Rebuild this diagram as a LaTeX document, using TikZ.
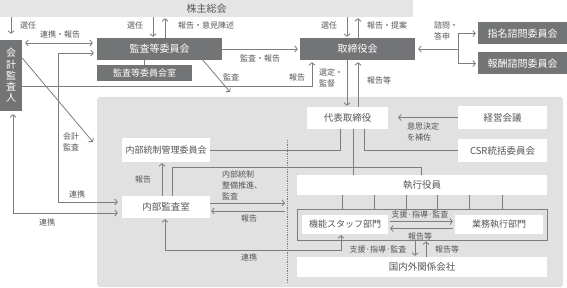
\documentclass[tikz,border=0pt]{standalone}
\usepackage{fontspec}
\setmainfont{Noto Sans CJK JP}
\usetikzlibrary{arrows.meta,calc}
\definecolor{dbox}{RGB}{115,116,118}
\definecolor{lbar}{RGB}{229,229,229}
\definecolor{reg}{RGB}{225,225,225}
\definecolor{ln}{RGB}{125,125,125}
\definecolor{tx}{RGB}{85,85,85}
\begin{document}
\begin{tikzpicture}[x=1pt,y=-1pt,
  dboxst/.style={fill=dbox,text=white,inner sep=0pt,font=\fontsize{10}{11}\selectfont},
  wboxst/.style={fill=white,text=tx,inner sep=0pt,font=\fontsize{9.5}{11}\selectfont},
  lbl/.style={text=tx,font=\fontsize{8}{11}\selectfont,inner sep=0pt,align=left},
  conn/.style={draw=ln,line width=0.8pt},
  arr/.style={conn,-{Straight Barb[length=2.5pt,width=6pt]}},
  darr/.style={conn,{Straight Barb[length=2.5pt,width=6pt]}-{Straight Barb[length=2.5pt,width=6pt]}},
]
\useasboundingbox (0,0) rectangle (567,288);
\fill[white] (0,0) rectangle (567,288);
% background region
\fill[reg, rounded corners=3pt] (97,97) rectangle (563,287);

% top bar
\node[fill=lbar,text=tx,inner sep=0pt,font=\fontsize{10}{11}\selectfont,minimum width=413pt,minimum height=17pt] (soukai) at (206.5,8.5) {株主総会};

% dark boxes
\node[dboxst,minimum width=22pt,minimum height=71pt,align=center,font=\fontsize{10}{11.2}\selectfont] (kaikei) at (11,75.5) {会\\計\\監\\査\\人};
\node[dboxst,minimum width=125pt,minimum height=22pt] (kansa) at (159.5,49) {監査等委員会};
\node[dboxst,minimum width=95pt,minimum height=16pt,font=\fontsize{9}{10}\selectfont] (kansashitsu) at (144.5,73) {監査等委員会室};
\node[dboxst,minimum width=115pt,minimum height=22pt] (torishimari) at (357.5,49) {取締役会};
\node[dboxst,minimum width=89pt,minimum height=22pt] (shimei) at (522.5,33.5) {指名諮問委員会};
\node[dboxst,minimum width=89pt,minimum height=22pt] (houshu) at (522.5,63.5) {報酬諮問委員会};
\draw[conn] (kansa.south -| kansashitsu.north) -- (kansashitsu.north);

% white boxes
\node[wboxst,minimum width=81pt,minimum height=22pt] (daihyo) at (347.5,118) {代表取締役};
\node[wboxst,minimum width=89pt,minimum height=23pt] (keiei) at (502.5,117.5) {経営会議};
\node[wboxst,minimum width=89pt,minimum height=23pt] (csr) at (502.5,150.5) {CSR統括委員会};
\node[wboxst,minimum width=88pt,minimum height=24pt,font=\fontsize{9}{10}\selectfont] (naibutousei) at (166,150) {内部統制管理委員会};
\node[wboxst,minimum width=88pt,minimum height=22pt] (naibukansa) at (166,207) {内部監査室};
\node[wboxst,minimum width=250pt,minimum height=20pt] (shikko) at (422,185) {執行役員};
\node[draw=ln,line width=0.9pt,inner sep=0pt,minimum width=250pt,minimum height=31pt] (frame) at (422,224.5) {};
\node[wboxst,minimum width=86pt,minimum height=19pt,font=\fontsize{9}{10}\selectfont] (kinou) at (345,224.5) {機能スタッフ部門};
\node[wboxst,minimum width=88pt,minimum height=19pt,font=\fontsize{9}{10}\selectfont] (gyomu) at (499,224.5) {業務執行部門};
\node[wboxst,minimum width=250pt,minimum height=20pt] (kokunai) at (422,267) {国内外関係会社};

% dotted divider
\coordinate (dvt) at (287,140);
\coordinate (dvb) at (287,283);
\draw[ln,densely dotted,line width=0.8pt] (dvt) -- (dvb);

% connections from 株主総会
\draw[arr,shorten >=6pt] (kaikei.north |- soukai.south) -- (kaikei.north);
\draw[arr,shorten >=1pt] (soukai.south -| 153,0) -- (kansa.north -| 153,0);
\draw[arr,shorten >=1pt] (kansa.north -| 165,0) -- (soukai.south -| 165,0);
\draw[arr,shorten >=1pt] (soukai.south -| 347,0) -- (torishimari.north -| 347,0);
\draw[arr,shorten >=1pt] (torishimari.north -| 358,0) -- (soukai.south -| 358,0);
\node[lbl] (l1) at (28,25) {選任};
\node[lbl] (l2) at (135,25) {選任};
\node[lbl] (l3) at (206,25) {報告・意見陳述};
\node[lbl] (l4) at (329,25) {選任};
\node[lbl] (l5) at (387,25) {報告・提案};

% 会計監査人 <-> 監査等委員会
\draw[darr,shorten <=3pt,shorten >=4pt] (kaikei.east |- 0,43) -- (kansa.west |- 0,43);
\node[lbl] (l6) at (60,34) {連携・報告};

% 監査等委員会 -> 取締役会
\draw[arr,shorten >=2pt] (kansa.east) -- (torishimari.west);
\node[lbl] (l7) at (260,58) {監査・報告};
\coordinate (kansaend) at (230,92);
\draw[arr] (kansa.south -| 203,0) -- (kansaend);
\node[lbl] (l8) at (231,77) {監査};

% 会計監査人 -> 取締役会 報告
\draw[arr,shorten >=2pt] (kaikei.east |- 0,86) -| (torishimari.south -| 312,0);
\node[lbl] (l9) at (297,77) {報告};

% 会計監査
\coordinate (kkend) at (93,142);
\draw[arr] (kaikei.east |- 0,58) -- (kkend);
\node[lbl] (l10) at (71,142) {会計\\監査};

% 連携 lines to 内部監査室
\draw[darr,shorten <=3pt,shorten >=4pt] (kansa.west |- 0,53) -- (58,53) -- (58,202) -- (naibukansa.west |- 0,202);
\node[lbl] (l11) at (77,194) {連携};
\draw[darr,shorten <=3pt,shorten >=4pt] (kaikei.south -| 13,0) -- (13,213) -- (naibukansa.west |- 0,213);
\node[lbl] (l12) at (47,222) {連携};

% 取締役会 <-> 代表取締役
\draw[arr,shorten >=1pt] (torishimari.south -| 347,0) -- (daihyo.north -| 347,0);
\draw[arr,shorten >=2pt] (daihyo.north -| 358,0) -- (torishimari.south -| 358,0);
\node[lbl] (l13) at (331,77.5) {選定・\\監督};
\node[lbl] (l14) at (379,80) {報告等};

% 右側委員会
\coordinate (fork) at (458,49);
\draw[arr,shorten >=3pt] (fork) -- (torishimari.east);
\draw[arr,shorten >=2pt] (fork) |- (shimei.west);
\draw[arr,shorten >=2pt] (fork) |- (houshu.west);
\node[lbl] (l15) at (446,31) {諮問・\\答申};

% 経営会議 / CSR
\draw[arr,shorten >=10pt] (keiei.west) -- (daihyo.east |- keiei.west);
\node[lbl] (l16) at (423,132) {意思決定\\を補佐};
\draw[conn] (csr.west) -| (daihyo.south -| 364,0);

% 代表取締役 下
\draw[conn] (daihyo.south -| 340,0) |- (naibutousei.east);
\draw[conn] (daihyo.south -| 353,0) -- (shikko.north -| 353,0);
\draw[conn] (naibukansa.north -| 172,0) -- (172,167) -| (shikko.north -| 421,0);

% 内部監査室
\draw[arr,shorten >=1pt] (naibukansa.north -| 162,0) -- (naibutousei.south -| 162,0);
\node[lbl] (l17) at (143,179) {報告};
\coordinate (aud) at (285,203);
\coordinate (rep) at (285,211);
\draw[arr] (naibukansa.east |- aud) -- (aud);
\draw[arr,shorten >=1pt] (rep) -- (naibukansa.east |- rep);
\node[lbl,anchor=west] (l18) at (222,185.5) {内部統制\\整備推進、\\監査};
\node[lbl] (l19) at (249,218) {報告};
\draw[darr,shorten <=1pt,shorten >=1pt] (naibukansa.south -| 165,0) -- (165,250) -| (kinou.south -| 341,0);
\node[lbl] (l20) at (249,257) {連携};

% 執行役員 ticks
\foreach \xx in {342,374,406,437,469,502}
  \draw[conn] (shikko.south -| \xx,0) -- (frame.north -| \xx,0);

% 機能スタッフ部門 <-> 業務執行部門
\draw[arr,shorten <=2pt,shorten >=2pt] (kinou.east |- 0,221.5) -- (gyomu.west |- 0,221.5);
\draw[arr,shorten <=2pt,shorten >=2pt] (gyomu.west |- 0,228.5) -- (kinou.east |- 0,228.5);
\node[lbl] (l21) at (420,214.5) {支援·指導·監査};
\node[lbl] (l22) at (420,236.5) {報告等};

% 国内外関係会社
\draw[arr,shorten >=1pt] (frame.south -| 415,0) -- (kokunai.north -| 415,0);
\draw[arr,shorten >=1pt] (kokunai.north -| 426,0) -- (frame.south -| 426,0);
\node[lbl] (l23) at (378,249.5) {支援·指導·監査};
\node[lbl] (l24) at (447,249.5) {報告等};
\end{tikzpicture}
\end{document}
